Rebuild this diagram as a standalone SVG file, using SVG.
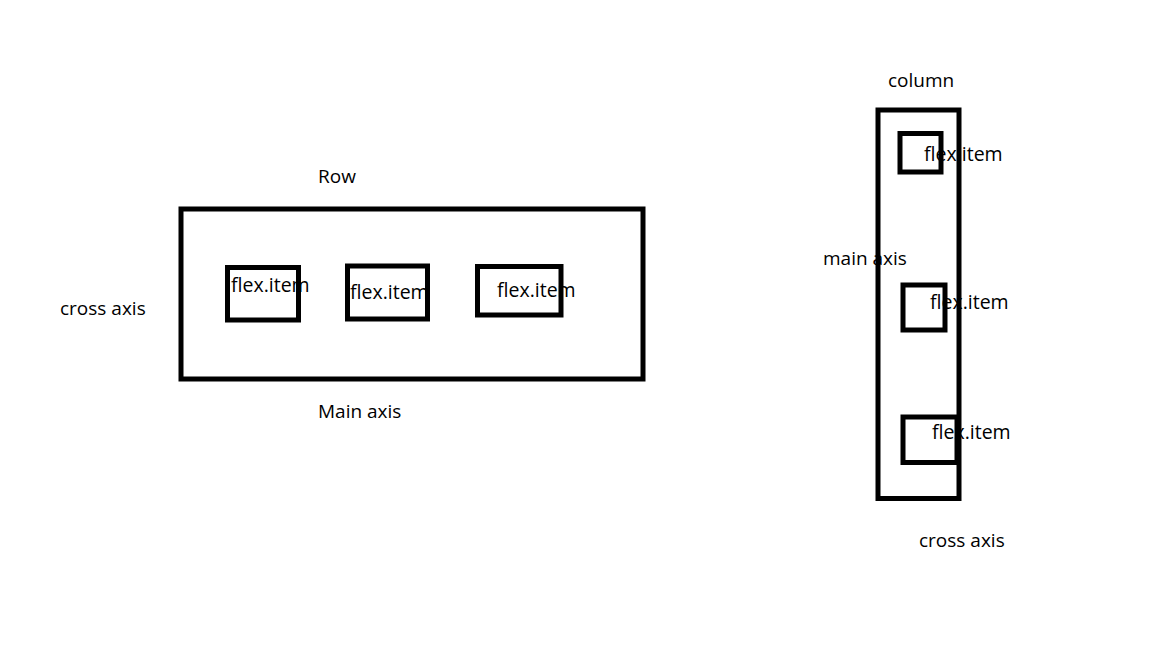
<svg xmlns="http://www.w3.org/2000/svg" width="1152" height="648" viewBox="0 0 1152 648">
<style>
.box{fill:none;stroke:#000;stroke-width:5}
.t{font-family:"Open Sans","Noto Sans",sans-serif;font-size:19px;fill:#000}
.fi{font-family:"Open Sans","Noto Sans",sans-serif;font-size:19.5px;fill:#000}
</style>
<rect width="1152" height="648" fill="#fff"/>
<g id="row-container">
<rect class="box" x="181" y="209" width="462" height="170"/>
<text class="t" x="318" y="183">Row</text>
<text class="t" x="318" y="418">Main axis</text>
<text class="t" x="60" y="315">cross axis</text>
</g>
<g id="row-item-1">
<rect class="box" x="227.5" y="267.5" width="71" height="52.5"/>
<text class="fi" x="231" y="292">flex.item</text>
</g>
<g id="row-item-2">
<rect class="box" x="347.5" y="266" width="80" height="53"/>
<text class="fi" x="350" y="298.5">flex.item</text>
</g>
<g id="row-item-3">
<rect class="box" x="477.5" y="266.5" width="83.5" height="48.5"/>
<text class="fi" x="497" y="296.5">flex.item</text>
</g>
<g id="column-container">
<rect class="box" x="878" y="110" width="81" height="388.5"/>
<text class="t" x="888" y="86.5">column</text>
<text class="t" x="823" y="264.5">main axis</text>
<text class="t" x="919" y="546.5">cross axis</text>
</g>
<g id="column-item-1">
<rect class="box" x="900" y="133.5" width="41" height="38.5"/>
<text class="fi" x="924" y="161">flex.item</text>
</g>
<g id="column-item-2">
<rect class="box" x="903" y="285" width="42" height="45"/>
<text class="fi" x="930" y="309">flex.item</text>
</g>
<g id="column-item-3">
<rect class="box" x="903" y="417" width="54" height="45.5"/>
<text class="fi" x="932" y="439">flex.item</text>
</g>
<g id="connectors"/>
</svg>
